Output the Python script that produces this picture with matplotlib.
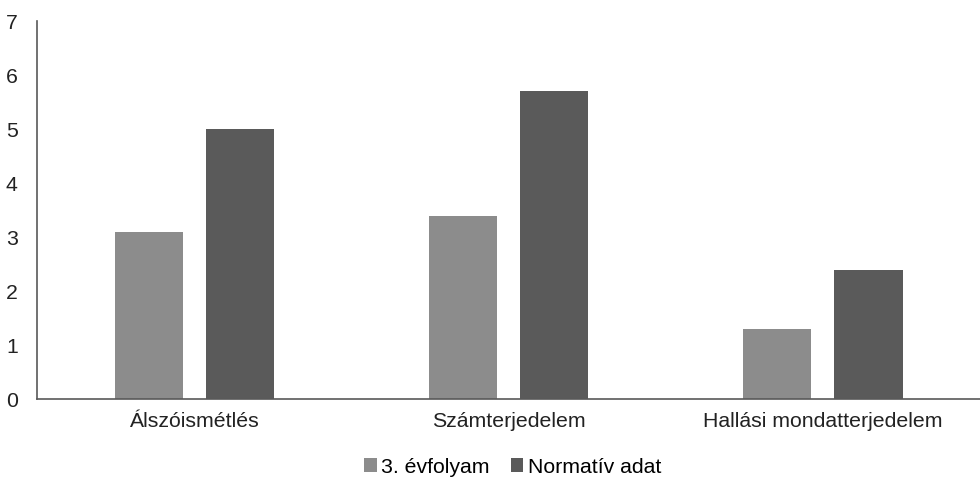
import numpy as np
import matplotlib.pyplot as plt

plt.rcParams['font.family'] = ['Liberation Sans', 'DejaVu Sans']

# ==============================================================================
# DATA
# ==============================================================================
categories = ["Álszóismétlés", "Számterjedelem", "Hallási mondatterjedelem"]
series     = ["3. évfolyam", "Normatív adat"]
evfolyam   = [3.1, 3.4, 1.3]
normativ   = [5.0, 5.7, 2.4]
colors     = {"3. évfolyam": "#8c8c8c", "Normatív adat": "#5a5a5a"}

# ==============================================================================
# FIGURE
# ==============================================================================
fig = plt.figure(figsize=(9.8, 4.82), dpi=100)
ax = fig.add_axes([0.038, 0.172, 0.962, 0.784])

x = np.arange(len(categories))
w = 0.217
off = 0.145
ax.bar(x - off, evfolyam, width=w, color=colors[series[0]], label=series[0])
ax.bar(x + off, normativ, width=w, color=colors[series[1]], label=series[1])

ax.set_xlim(-0.5, len(categories) - 0.5)
ax.set_ylim(0, 7)
ax.set_yticks(range(0, 8))
ax.set_xticks(x)
ax.set_xticklabels(categories)
ax.tick_params(axis='both', length=0, labelsize=15.3, colors='#222222')
ax.tick_params(axis='y', pad=14)
ax.tick_params(axis='x', pad=9)

for s in ['top', 'right']:
    ax.spines[s].set_visible(False)
for s in ['left', 'bottom']:
    ax.spines[s].set_color('#595959')
    ax.spines[s].set_linewidth(1.2)

fig.legend(loc='center', bbox_to_anchor=(0.523, 0.031), ncol=2, frameon=False,
           fontsize=15.3, handlelength=0.6, handleheight=0.6, handletextpad=0.2,
           columnspacing=1.0)

fig.savefig("out.png", dpi=100)
